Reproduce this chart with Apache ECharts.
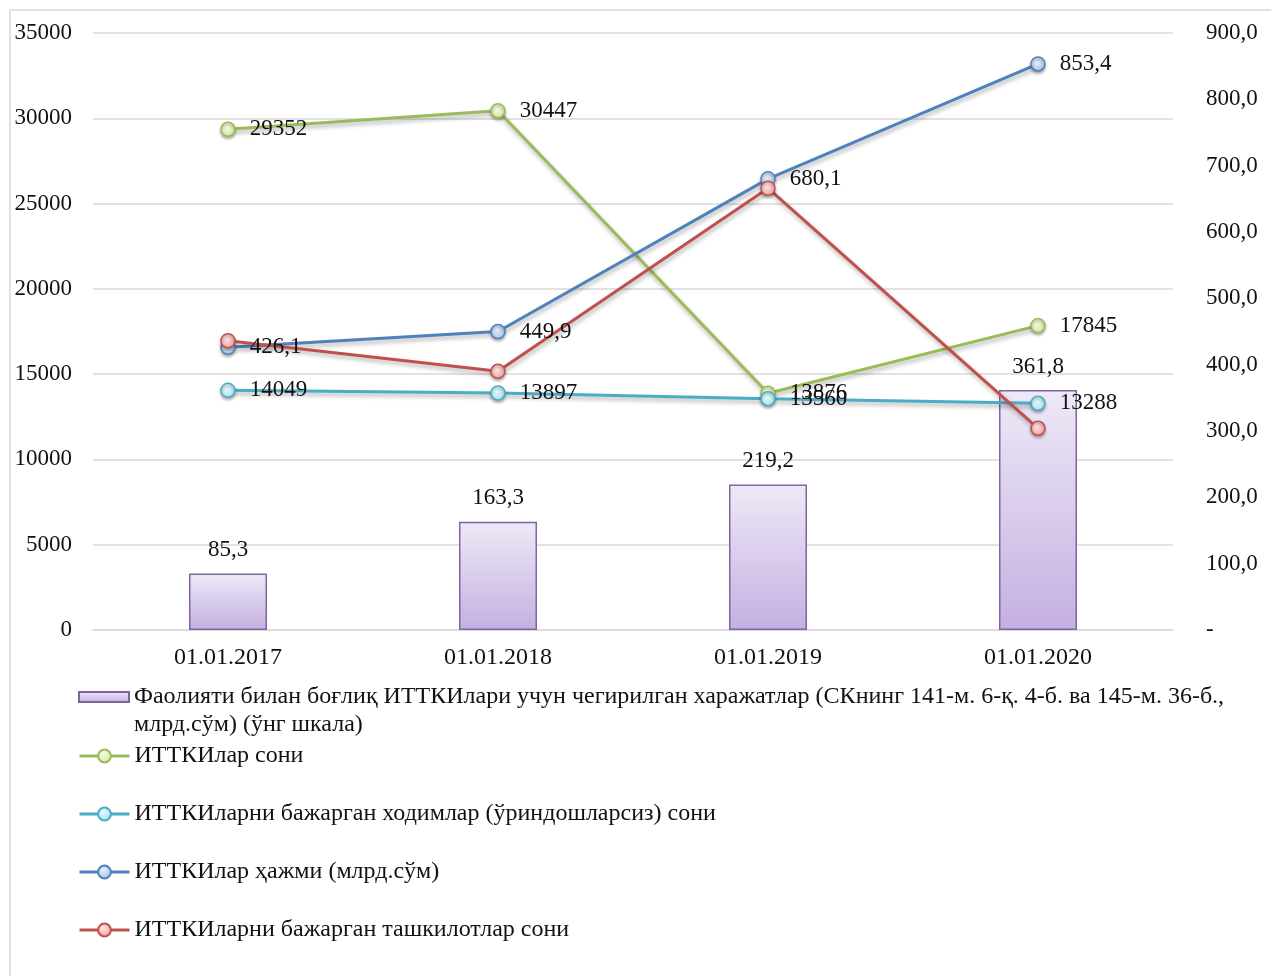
<!DOCTYPE html>
<html>
<head>
<meta charset="utf-8">
<script src="https://cdn.jsdelivr.net/npm/echarts@6/dist/echarts.min.js"></script>
<style>
  html, body { margin: 0; padding: 0; background: #ffffff; }
  #chart { width: 1271px; height: 976px; }
</style>
</head>
<body>
<div id="chart"></div>
<script>
// Report dates
const categories = ['01.01.2017', '01.01.2018', '01.01.2019', '01.01.2020'];
// Deducted R&D-related expenses, bln. sum (right scale)
const deductions = [85.3, 163.3, 219.2, 361.8];
// Number of R&D works (left scale)
const projectCount = [29352, 30447, 13876, 17845];
// R&D staff without part-timers (left scale)
const staffCount = [14049, 13897, 13560, 13288];
// R&D volume, bln. sum (right scale)
const projectVolume = [426.1, 449.9, 680.1, 853.4];
// Organisations performing R&D (right scale, unlabeled)
const orgCount = [436, 390, 666, 304];

// Axis ticks
const leftTicks = { min: 0, max: 35000, interval: 5000 };
const rightTicks = { min: 0, max: 900, interval: 100 };

const names = [
  'Фаолияти билан боғлиқ ИТТКИлари учун чегирилган харажатлар (СКнинг 141-м. 6-қ. 4-б. ва 145-м. 36-б., млрд.сўм) (ўнг шкала)',
  'ИТТКИлар сони',
  'ИТТКИларни бажарган ходимлар (ўриндошларсиз) сони',
  'ИТТКИлар ҳажми (млрд.сўм)',
  'ИТТКИларни бажарган ташкилотлар сони'
];
// The long bar legend entry is wrapped after its first line
const firstLegendLines = [
  'Фаолияти билан боғлиқ ИТТКИлари учун чегирилган харажатлар (СКнинг 141-м. 6-қ. 4-б. ва 145-м. 36-б.,',
  'млрд.сўм) (ўнг шкала)'
];

const FONT = '"Liberation Serif", "Times New Roman", serif';
const TXT = '#111111';
const GRID = '#d9d9d9';

const comma1 = v => Number(v).toFixed(1).replace('.', ',');

function markerFill(inner, outer) {
  return new echarts.graphic.RadialGradient(0.4, 0.35, 0.7, [
    { offset: 0, color: inner },
    { offset: 1, color: outer }
  ]);
}

function lineSeries(name, data, color, inner, outer, axis, labelFmt) {
  return {
    name: name,
    type: 'line',
    yAxisIndex: axis,
    data: data,
    symbol: 'circle',
    symbolSize: 14,
    z: 3,
    lineStyle: {
      color: color, width: 3,
      shadowColor: 'rgba(0,0,0,0.3)', shadowBlur: 4, shadowOffsetX: 1, shadowOffsetY: 3
    },
    itemStyle: {
      color: markerFill(inner, outer), borderColor: color, borderWidth: 1.5,
      shadowColor: 'rgba(0,0,0,0.3)', shadowBlur: 3, shadowOffsetY: 2
    },
    label: labelFmt ? {
      show: true, position: 'right', distance: 14,
      fontFamily: FONT, fontSize: 23, color: TXT,
      formatter: p => labelFmt(p.value)
    } : { show: false },
    emphasis: { disabled: true }
  };
}

const legendBase = {
  left: 78,
  padding: 0,
  orient: 'vertical',
  itemWidth: 50,
  itemHeight: 16,
  itemGap: 0,
  lineStyle: { width: 3 },
  textStyle: { fontFamily: FONT, fontSize: 24, color: TXT, lineHeight: 28 },
  selectedMode: false
};

const option = {
  animation: false,
  backgroundColor: '#ffffff',
  graphic: [{
    type: 'rect',
    shape: { x: 10, y: 10, width: 1300, height: 1000 },
    style: { fill: 'none', stroke: GRID, lineWidth: 1.5 },
    silent: true
  }],
  grid: { left: 93, right: 98, top: 33, bottom: 346 },
  legend: [
    Object.assign({}, legendBase, {
      data: [{ name: names[0], icon: 'rect' }], top: 655, itemHeight: 10,
      formatter: () => '\n' + firstLegendLines.join('\n')
    }),
    Object.assign({}, legendBase, { data: [names[1]], top: 742 }),
    Object.assign({}, legendBase, { data: [names[2]], top: 800 }),
    Object.assign({}, legendBase, { data: [names[3]], top: 858 }),
    Object.assign({}, legendBase, { data: [names[4]], top: 916 })
  ],
  xAxis: {
    type: 'category',
    data: categories,
    boundaryGap: true,
    axisLine: { show: true, lineStyle: { color: GRID, width: 1.5 } },
    axisTick: { show: false },
    axisLabel: { fontFamily: FONT, fontSize: 24, color: TXT, margin: 16 }
  },
  yAxis: [
    Object.assign({
      type: 'value',
      position: 'left',
      axisLine: { show: false },
      axisTick: { show: false },
      splitLine: { show: true, lineStyle: { color: GRID, width: 1.5 } },
      axisLabel: {
        fontFamily: FONT, fontSize: 23, color: TXT, margin: 21,
        formatter: v => String(v)
      }
    }, leftTicks),
    Object.assign({
      type: 'value',
      position: 'right',
      axisLine: { show: false },
      axisTick: { show: false },
      splitLine: { show: false },
      axisLabel: {
        fontFamily: FONT, fontSize: 23, color: TXT, margin: 33,
        formatter: v => (v === 0 ? '-' : comma1(v))
      }
    }, rightTicks)
  ],
  series: [
    {
      name: names[0],
      type: 'bar',
      yAxisIndex: 1,
      data: deductions,
      barWidth: 78,
      z: 2,
      itemStyle: {
        color: new echarts.graphic.LinearGradient(0, 0, 0, 1, [
          { offset: 0, color: '#eee9f7' },
          { offset: 1, color: '#c4b0e1' }
        ]),
        borderColor: '#8064a2',
        borderWidth: 1.5
      },
      label: {
        show: true, position: 'top', distance: 12,
        fontFamily: FONT, fontSize: 23, color: TXT,
        formatter: p => comma1(p.value)
      },
      emphasis: { disabled: true }
    },
    lineSeries(names[1], projectCount, '#9bbb59', '#f6fbe6', '#cfe79a', 0, v => String(v)),
    lineSeries(names[2], staffCount, '#4bacc6', '#eaf9fd', '#a6e0f0', 0, v => String(v)),
    lineSeries(names[3], projectVolume, '#4f81bd', '#e6eef9', '#a9c1e6', 1, v => comma1(v)),
    lineSeries(names[4], orgCount, '#c0504d', '#fde6e5', '#ee9c99', 1, null)
  ]
};

const chart = echarts.init(document.getElementById('chart'), null, { renderer: 'canvas' });
chart.setOption(option);
</script>
</body>
</html>
